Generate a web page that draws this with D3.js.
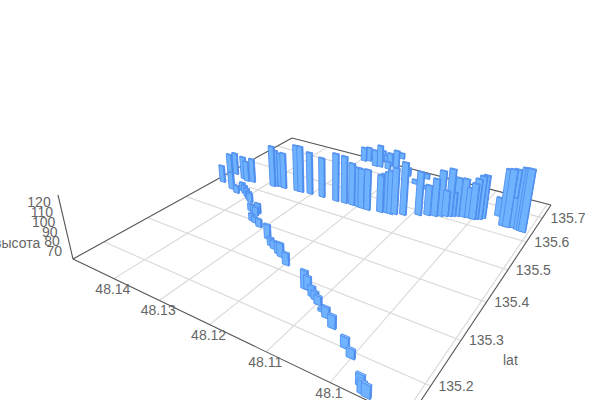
<!DOCTYPE html>
<html><head><meta charset="utf-8"><style>html,body{margin:0;padding:0;background:#fff}svg{display:block}text{font-family:"Liberation Sans",Arial,sans-serif;font-size:14px;fill:#666}</style>
<script src="https://cdnjs.cloudflare.com/ajax/libs/d3/7.8.5/d3.min.js"></script></head><body><svg id="c" width="600" height="400"></svg>
<script>
const lonGrid=[48.14,48.13,48.12,48.11,48.1,48.09];
const lonTicks=[48.14,48.13,48.12,48.11,48.1];
const latTicks=[135.2,135.3,135.4,135.5,135.6,135.7];
const zTicks=[70,80,90,100,110,120];
const lons=[48.1483,48.1485,48.1485,48.1447,48.1428,48.1456,48.1445,48.1432,48.1423,48.1412,48.14,48.1389,48.1382,48.1358,48.1349,48.1341,48.1342,48.1333,48.1324,48.1309,
48.1271,48.1253,48.1243,48.1228,48.1219,48.1198,48.1136,48.1131,48.1116,48.1108,48.1098,48.1084,48.1072,48.1053,48.1017,48.1001,48.0966,48.0958,48.0951,48.1386,
48.1381,48.137,48.1362,48.1333,48.1324,48.1304,48.1277,48.1246,48.1228,48.1212,48.1198,48.1191,48.1178,48.1154,48.1149,48.1141,48.1135,48.1128,48.1113,48.1292,
48.1283,48.1259,48.1248,48.1257,48.1247,48.1232,48.1214,48.1227,48.1178,48.1229,48.1149,48.1089,48.1139,48.1125,48.1075,48.1063,48.1054,48.104,48.1046,48.1029,
48.1035,48.1017,48.1008,48.1,48.0996,48.099,48.0986,48.0964,48.0946,48.0939,48.0933,48.0927,48.0919,48.0914,48.091];
const lats=[135.49,135.517,135.534,135.476,135.468,135.525,135.521,135.524,135.481,135.474,135.466,135.458,135.453,135.426,135.423,135.419,135.427,135.398,135.395,135.388,
135.364,135.349,135.344,135.336,135.331,135.317,135.28,135.281,135.27,135.266,135.259,135.248,135.24,135.226,135.201,135.189,135.153,135.143,135.141,135.532,
135.536,135.538,135.537,135.541,135.542,135.545,135.547,135.548,135.55,135.551,135.551,135.55,135.55,135.556,135.56,135.56,135.56,135.564,135.57,135.741,
135.747,135.731,135.733,135.764,135.764,135.749,135.743,135.797,135.726,135.733,135.699,135.585,135.734,135.689,135.594,135.598,135.604,135.613,135.609,135.621,
135.617,135.624,135.626,135.626,135.629,135.633,135.64,135.663,135.632,135.632,135.636,135.636,135.633,135.632,135.631];
const heights=[81,89,87,81,70,88,85,89,71,71,71,71,71,69,70,70,72,69,68,70,
77,70,70,73,76,74,80,75,72,70,70,64,72,74,72,70,72,73,73,109,
104,101,103,115,115,110,107,116,115,109,106,106,107,103,104,107,110,113,120,78,
78,81,88,74,69,77,84,68,71,70,66,110,67,65,95,103,112,114,90,104,
88,104,95,101,106,109,109,82,123,124,124,94,128,128,129];
const barLon=0.00062,barLat=0.0016;
const C={L:[73,259],F:[408,420],R:[551,205],B:[292,138]},V=[331,1360];
const lonS=d3.scaleLinear([48.15,48.0893],[0,1]),latS=d3.scaleLinear([135.1365,135.759],[0,1]),zS=d3.scaleLinear([61,127],[0,1]);
const [x0,y0]=C.L,[x1,y1]=C.F,[x2,y2]=C.R,[x3,y3]=C.B;
const dx1=x1-x2,dx2=x3-x2,sx=x0-x1+x2-x3,dy1=y1-y2,dy2=y3-y2,sy=y0-y1+y2-y3,den=dx1*dy2-dx2*dy1;
const g=(sx*dy2-dx2*sy)/den,h=(dx1*sy-sx*dy1)/den;
const a=x1-x0+g*x1,b=x3-x0+h*x3,c=x0,d=y1-y0+g*y1,e=y3-y0+h*y3,f=y0;
const k=(195-259)/(V[1]-195);
function pu(u,v,t){const w=g*u+h*v+1+k*t;return[(a*u+b*v+c+k*t*V[0])/w,(d*u+e*v+f+k*t*V[1])/w];}
const pd=(lon,lat,z)=>pu(lonS(lon),latS(lat),zS(z));
const svg=d3.select('#c');
const line=(p,q,col)=>svg.append('line').attr('x1',p[0]).attr('y1',p[1]).attr('x2',q[0]).attr('y2',q[1]).attr('stroke',col).attr('stroke-width',1.1);
latTicks.forEach(l=>line(pu(0,latS(l),0),pu(1,latS(l),0),'#d8d8d8'));
lonGrid.forEach(l=>line(pu(lonS(l),0,0),pu(lonS(l),1,0),'#d8d8d8'));
[[0,0,0,1],[0,1,1,1],[0,0,1,0],[1,0,1,1]].forEach(r=>line(pu(r[0],r[1],0),pu(r[2],r[3],0),'#555'));
line(pu(0,0,0),pu(0,0,1),'#555');
lonTicks.forEach(l=>{const p=pu(lonS(l),0,0);svg.append('text').attr('x',p[0]-1).attr('y',p[1]+15).attr('text-anchor','middle').text(l);});
latTicks.forEach(l=>{const p=pu(1,latS(l),0);svg.append('text').attr('x',p[0]+8).attr('y',p[1]+5).text(l);});
zTicks.forEach(l=>{const p=pu(0,0,zS(l));svg.append('text').attr('x',p[0]-9).attr('y',p[1]+5).attr('text-anchor','end').text(l);});
svg.append('text').attr('x',-6).attr('y',248).text('высота');
svg.append('text').attr('x',503).attr('y',365).text('lat');
const bars=lons.map((lon,i)=>({lon,lat:lats[i],z:heights[i]}));
bars.sort((p,q)=>pd(p.lon,p.lat,61)[1]-pd(q.lon,q.lat,61)[1]);
const P=a=>a.map(q=>q.join(',')).join(' ');
bars.forEach(o=>{const{lon,lat,z}=o,l0=lon+barLon,l1=lon-barLon,a0=lat-barLat,a1=lat+barLat;
const near=pd(l1,a0,61),rgt=pd(l1,a1,61),lft=pd(l0,a0,61),nearT=pd(l1,a0,z),rgtT=pd(l1,a1,z),lftT=pd(l0,a0,z),backT=pd(l0,a1,z);
const G=svg.append('g').attr('stroke','#4f8fee').attr('stroke-width',.9).attr('stroke-linejoin','round');
G.append('polygon').attr('points',P([lft,near,nearT,lftT])).attr('fill','#6fb3ff');
G.append('polygon').attr('points',P([near,rgt,rgtT,nearT])).attr('fill','#3f7fe8');
G.append('polygon').attr('points',P([lftT,nearT,rgtT,backT])).attr('fill','#8cc0ff');
});
</script></body></html>
